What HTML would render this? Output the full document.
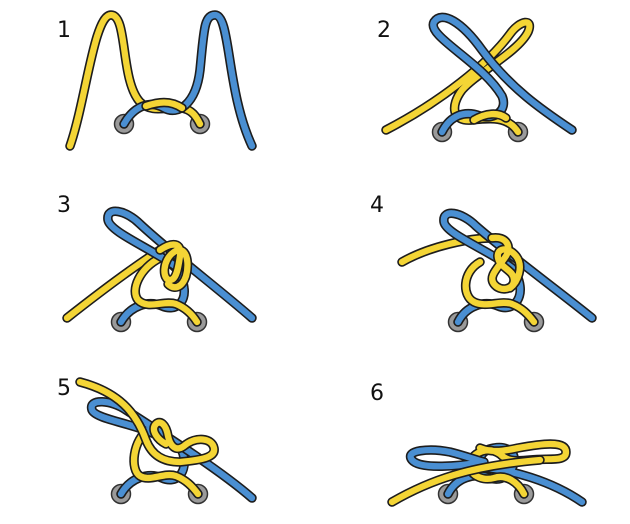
<!DOCTYPE html>
<html><head><style>
html,body{margin:0;padding:0;background:#fff;width:630px;height:524px;overflow:hidden}
svg{display:block}
.o{fill:none;stroke:#1d1d1d;stroke-width:9.5;stroke-linecap:round;stroke-linejoin:round}
.y{fill:none;stroke:#f4d535;stroke-width:6.3;stroke-linecap:round;stroke-linejoin:round}
.b{fill:none;stroke:#4a8fd2;stroke-width:6.3;stroke-linecap:round;stroke-linejoin:round}
text{font-family:"DejaVu Sans","Liberation Sans",sans-serif;font-size:22px;fill:#111}
</style></head><body>
<svg id="s" width="630" height="524" viewBox="0 0 630 524" xmlns="http://www.w3.org/2000/svg">
<text x="57" y="37">1</text>
<text x="377" y="37">2</text>
<text x="57" y="212">3</text>
<text x="370" y="212">4</text>
<text x="57" y="395">5</text>
<text x="370" y="400">6</text>
<g id="g"></g>
</svg>
<script>
var E=[[124,124],[200,124],[442,132],[518,132],[121,322],[197,322],[458,322],[534,322],[121,494],[198,494],[448,494],[524,494]];
var L=[
// panel1
['y','M70,146 C86,100 94,15 111,15 C128,15 120,80 140,102 C152,114 168,106 182,108 C192,110 196,116 200,124'],
['b','M124,124 C134,106 150,100 164,108 C178,116 196,104 200,70 C204,30 204,15 215,15 C231,15 226,90 252,146'],
['y','M146,106 C158,102 170,100 182,108'],
// panel2
['y','M386,130 C440,102 488,64 510,34 C520,20 534,18 528,32 C518,52 478,72 462,90 C450,106 452,122 472,120 C490,118 508,116 518,132'],
['b','M442,132 C450,116 464,110 480,116 C495,120 508,110 502,96 C482,62 426,36 434,22 C442,10 462,22 482,50 C510,88 542,110 572,130'],
['y','M474,120 C486,113 498,112 506,118'],
// panel3
['y','M67,318 C100,292 135,266 160,250'],
['b','M121,322 C130,306 148,300 162,306 C176,312 186,302 184,288 C182,270 170,262 160,256'],
['y','M160,258 C140,268 130,290 138,300 C148,310 164,300 176,304 C186,308 192,314 197,322'],
['b','M175,266 C150,248 110,232 108,220 C106,206 126,210 140,224 C170,252 220,290 252,318'],
['y','M160,250 C172,242 182,242 180,256 C178,270 176,280 170,280 C162,280 162,260 174,252 C186,244 190,262 186,276 C182,288 174,290 168,284'],
// panel4
['b','M458,322 C466,306 484,300 498,306 C512,312 522,300 520,286 C518,270 506,262 496,256'],
['y','M480,262 C462,272 462,296 474,302 C486,308 500,300 512,304 C522,308 528,314 534,322'],
['y','M402,262 C430,246 470,238 492,238'],
['b','M512,268 C488,250 446,234 444,222 C442,208 462,212 476,226 C508,254 560,292 592,318'],
['y','M492,238 C506,236 512,246 506,256 C498,268 488,276 494,284 C500,292 514,290 514,280 C514,270 500,268 498,258 C496,248 508,246 516,256 C524,266 518,282 510,288'],
// panel5
['b','M121,494 C130,478 148,472 162,478 C176,484 186,474 184,458 C182,444 172,440 162,438'],
['y','M150,428 C132,440 130,470 140,476 C150,482 164,472 176,476 C186,480 192,486 198,494'],
['b','M162,438 C140,424 96,420 92,410 C88,398 112,400 126,410 C160,432 220,470 252,498'],
['y','M80,382 C118,392 136,412 146,440 C152,456 164,462 180,462 C200,460 216,458 214,448 C212,438 196,436 184,446 C176,452 170,446 168,436 C166,424 160,420 156,424 C150,430 158,440 166,444'],
// panel6
['b','M448,494 C456,478 474,472 490,478 C502,482 512,474 514,462 C516,450 504,446 494,448 C480,450 476,462 486,468 C510,470 550,480 582,502'],
['y','M524,494 C518,482 506,474 494,478 C480,482 466,472 470,462 C474,452 488,446 500,454 C506,460 512,462 530,460 C550,458 566,462 566,452 C566,440 540,444 518,448 C500,452 490,452 480,448'],
['b','M484,462 C460,466 420,470 412,460 C404,450 430,448 450,452 C466,456 476,460 484,462'],
['y','M392,502 C430,480 470,466 540,460']
];
var g=document.getElementById('g'),h='';
E.forEach(function(e){h+='<circle cx="'+e[0]+'" cy="'+e[1]+'" r="9.5" fill="#9a9a9a" stroke="#333" stroke-width="1.5"/><circle cx="'+e[0]+'" cy="'+e[1]+'" r="4" fill="#fff" stroke="#333" stroke-width="1"/>';});
L.forEach(function(l){h+='<path class="o" d="'+l[1]+'"/><path class="'+l[0]+'" d="'+l[1]+'"/>';});
g.innerHTML=h;
</script>
</body></html>
